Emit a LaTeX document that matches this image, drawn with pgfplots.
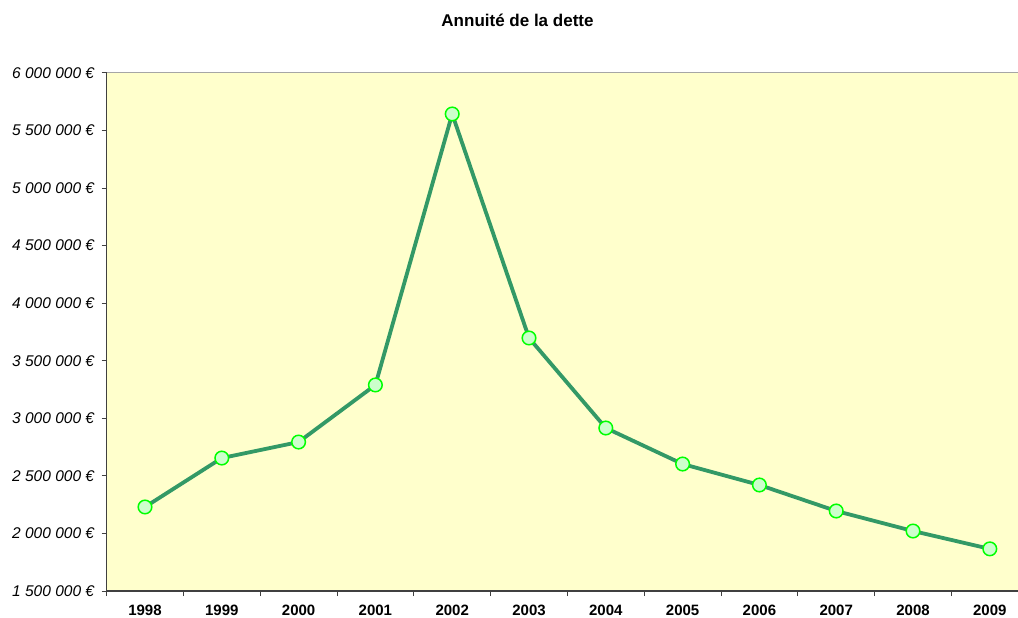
\documentclass[border=0pt]{standalone}
\usepackage{fontspec}
\setmainfont{Liberation Sans}
\usepackage{pgfplots}
\pgfplotsset{compat=1.18}
\definecolor{bgyellow}{RGB}{255,255,204}
\definecolor{linegreen}{RGB}{51,153,102}
\definecolor{mkfill}{RGB}{204,255,204}
\definecolor{mkdraw}{RGB}{0,255,0}
\definecolor{axgray}{RGB}{64,64,64}
\begin{document}
\begin{tikzpicture}
\path[use as bounding box] (-106.6bp,-27bp) rectangle (911.4bp,591bp);
\begin{axis}[
  at={(0,0)}, anchor=south west,
  scale only axis,
  width=911.4bp, height=518bp,
  xmin=-0.5, xmax=11.367,
  ymin=1500000, ymax=6000000,
  scaled y ticks=false,
  axis x line*=bottom, axis y line*=left,
  axis line style={axgray, line width=1.2bp},
  axis background/.style={fill=bgyellow},
  xtick={0,1,2,3,4,5,6,7,8,9,10,11},
  xticklabels={1998,1999,2000,2001,2002,2003,2004,2005,2006,2007,2008,2009},
  major x tick style={draw=none},
  minor xtick={-0.5,0.5,1.5,2.5,3.5,4.5,5.5,6.5,7.5,8.5,9.5,10.5},
  minor x tick style={axgray, line width=1bp},
  minor tick length=5bp,
  ytick={1500000,2000000,2500000,3000000,3500000,4000000,4500000,5000000,5500000,6000000},
  yticklabels={1 500 000 €,2 000 000 €,2 500 000 €,3 000 000 €,3 500 000 €,4 000 000 €,4 500 000 €,5 000 000 €,5 500 000 €,6 000 000 €},
  major y tick style={axgray, line width=1bp},
  major tick length=5bp,
  tick align=outside,
  yticklabel style={font=\fontsize{15.5bp}{17bp}\selectfont\itshape, xshift=-4bp},
  xticklabel style={font=\fontsize{15bp}{17bp}\selectfont\bfseries, yshift=-6bp},
  clip=false,
]
\draw[gray!70, line width=1bp] (rel axis cs:0,1) -- (rel axis cs:1,1);
\addplot[linegreen, line width=3.8bp, mark=*, mark size=6.8bp,
  mark options={fill=mkfill, draw=mkdraw, line width=1.5bp}]
  coordinates {
  (0,2230000) (1,2655000) (2,2794000) (3,3290000) (4,5644000) (5,3698000)
  (6,2916000) (7,2603000) (8,2421000) (9,2195000) (10,2021000) (11,1866000)
  };
\end{axis}
\node[font=\fontsize{17bp}{19bp}\selectfont\bfseries] at (410.9bp,571bp) {Annuité de la dette};
\end{tikzpicture}
\end{document}
